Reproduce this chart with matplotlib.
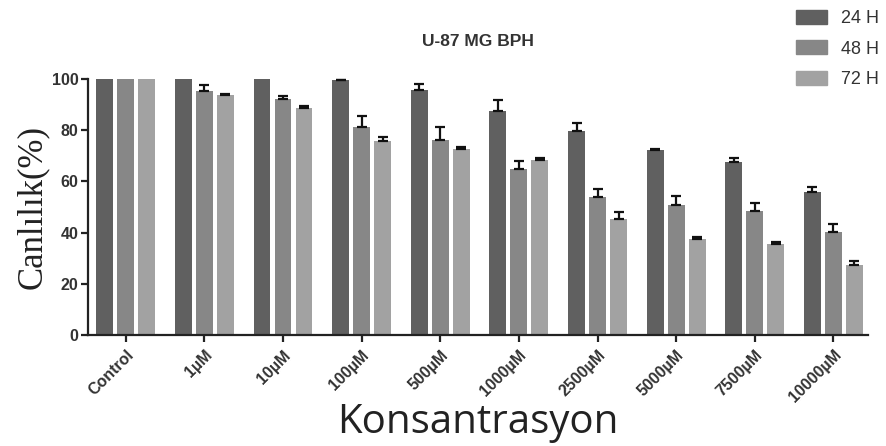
"""U-87 MG BPH viability bar chart (GraphPad style)."""

import numpy as np
import matplotlib
matplotlib.use("Agg")
import matplotlib.pyplot as plt
from matplotlib.patches import Patch

categories = ["Control", "1µM", "10µM", "100µM", "500µM", "1000µM",
              "2500µM", "5000µM", "7500µM", "10000µM"]
series_names = ["24 H", "48 H", "72 H"]

vals_24 = [100, 100, 100, 99.5, 95.6, 87.5, 79.5, 72.4, 67.6, 56.0]
vals_48 = [100, 95.3, 92.1, 81.4, 76.1, 64.8, 54.1, 50.9, 48.5, 40.1]
vals_72 = [100, 93.8, 88.8, 75.7, 72.5, 68.3, 45.5, 37.4, 35.7, 27.2]

err_24 = [0, 0, 0, 0.3, 2.3, 4.2, 3.5, 0.3, 1.5, 1.7]
err_48 = [0, 2.4, 1.4, 4.1, 5.3, 3.0, 2.9, 3.3, 3.1, 3.2]
err_72 = [0, 0.4, 0.8, 1.6, 0.8, 0.8, 2.5, 0.9, 0.5, 1.6]

colors = ["#606060", "#878787", "#a2a2a2"]

fig = plt.figure(figsize=(8.87, 4.46), dpi=100)
ax = fig.add_axes([88 / 887, 1 - 335 / 446, 780 / 887, 256 / 446])

x = np.arange(len(categories))
width = 0.216
step = 0.267
for i, (vals, errs) in enumerate([(vals_24, err_24), (vals_48, err_48), (vals_72, err_72)]):
    pos = x + (i - 1) * step
    vals = np.array(vals)
    errs = np.array(errs)
    ax.bar(pos, vals, width=width, color=colors[i], zorder=2)
    # upper error bars only, none where there is no spread (Control etc.)
    m = errs > 0
    ax.errorbar(pos[m], vals[m], yerr=[np.zeros(m.sum()), errs[m]], fmt="none",
                ecolor="#111111", elinewidth=1.6, capsize=3.8, capthick=1.6,
                zorder=3, clip_on=False)

ax.set_xlim(-0.48, 9.44)
ax.set_ylim(0, 100)
ax.set_yticks([0, 20, 40, 60, 80, 100])
ax.set_xticks(x)
ax.set_xticklabels(categories, rotation=45, ha="right", rotation_mode="anchor",
                   fontsize=11.5, fontweight="bold",
                   family="Liberation Sans", color="#333333")
for lbl in ax.get_yticklabels():
    lbl.set_fontsize(11.5)
    lbl.set_fontweight("bold")
    lbl.set_family("Liberation Sans")
    lbl.set_color("#333333")

for s in ["top", "right"]:
    ax.spines[s].set_visible(False)
for s in ["left", "bottom"]:
    ax.spines[s].set_linewidth(1.6)
    ax.spines[s].set_color("#222222")
ax.tick_params(axis="both", width=1.6, length=5, color="#222222")
ax.tick_params(axis="y", pad=2)
ax.tick_params(axis="x", pad=4)

ax.set_title("U-87 MG BPH", fontsize=12.5, fontweight="bold",
             family="Liberation Sans", color="#333333", pad=24)
ax.set_ylabel("Canlılık(%)", fontsize=25, family="Liberation Serif",
              color="#222222", labelpad=2)
ax.set_xlabel("Konsantrasyon", fontsize=29, family="Open Sans",
              color="#222222", labelpad=-2)

handles = [Patch(facecolor=c, edgecolor=c) for c in colors]
fig.legend(handles, series_names, loc="upper left",
           bbox_to_anchor=(792 / 887, 1 - 6 / 446), frameon=False,
           prop={"family": "Liberation Sans", "size": 13},
           handlelength=1.75, handleheight=0.85, handletextpad=0.75,
           labelspacing=0.72, borderaxespad=0, borderpad=0.2,
           labelcolor="#333333")

fig.savefig("out.png", dpi=100)
